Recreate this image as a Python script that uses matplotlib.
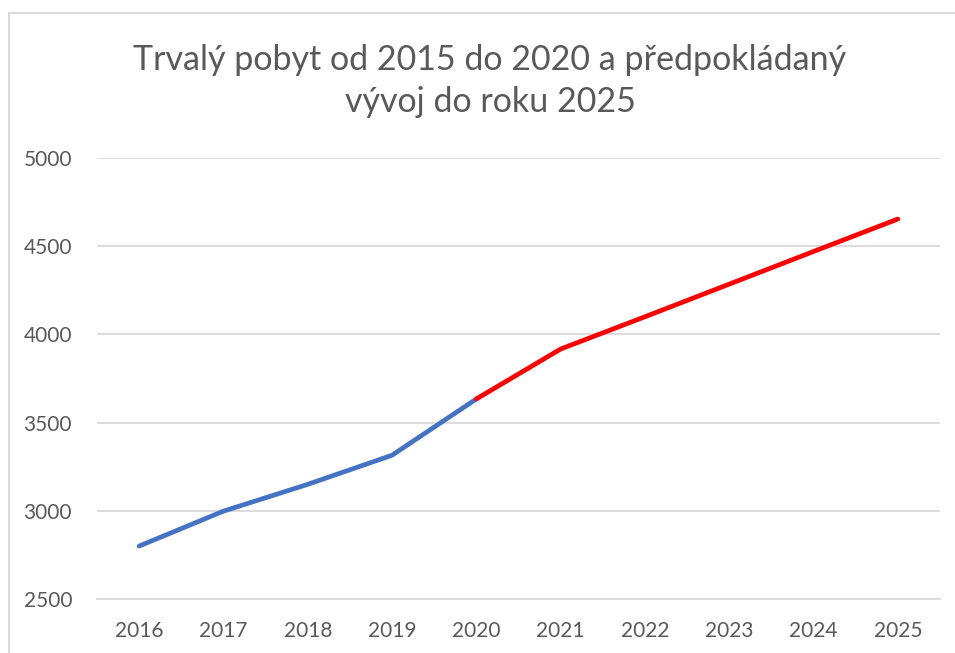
import matplotlib
matplotlib.use('Agg')
import matplotlib.pyplot as plt
from matplotlib.patches import Rectangle

# Data
years = ['2016', '2017', '2018', '2019', '2020', '2021', '2022', '2023', '2024', '2025']
actual = [2800, 2998, 3150, 3315, 3634]          # 2016-2020
forecast = [3634, 3917, 4100, 4285, 4470, 4654]  # 2020-2025
y_ticks = [2500, 3000, 3500, 4000, 4500, 5000]

title = 'Trvalý pobyt od 2015 do 2020 a předpokládaný\nvývoj do roku 2025'

plt.rcParams['font.family'] = ['Lato', 'DejaVu Sans']
text_col = '#595959'
grid_col = '#D9D9D9'

W, H = 955, 653
fig = plt.figure(figsize=(W / 100, H / 100), dpi=100)
ax = fig.add_axes([97 / W, 1 - 599 / H, (940 - 97) / W, (599 - 158) / H])

x_act = list(range(len(actual)))
x_fc = list(range(len(actual) - 1, len(actual) - 1 + len(forecast)))
ax.plot(x_act, actual, color='#4472C4', lw=3.4, solid_capstyle='round',
        solid_joinstyle='round', zorder=3)
ax.plot(x_fc, forecast, color='#FF0000', lw=3.4, solid_capstyle='round',
        solid_joinstyle='round', zorder=3)

ax.set_xlim(-0.5, len(years) - 0.5)
ax.set_ylim(y_ticks[0], y_ticks[-1])
ax.set_xticks(range(len(years)))
ax.set_xticklabels(years)
ax.set_yticks(y_ticks)
ax.yaxis.grid(True, color=grid_col, lw=1.3)
ax.set_axisbelow(True)
for s in ax.spines.values():
    s.set_visible(False)
ax.spines['bottom'].set_visible(True)
ax.spines['bottom'].set_color(grid_col)
ax.spines['bottom'].set_linewidth(1.3)
ax.tick_params(length=0, labelsize=15, colors=text_col)
ax.tick_params(axis='x', pad=16)
ax.tick_params(axis='y', pad=18)

fig.text(490 / W, 1 - 81 / H, title, ha='center', va='center',
         fontsize=24.5, color=text_col, linespacing=1.35)

# chart area frame (partly cut off at right and bottom)
fig.patches.append(Rectangle((9 / W, -0.05), 1.05, 1 - 13 / H + 0.05,
                             transform=fig.transFigure, fill=False,
                             edgecolor=grid_col, lw=1.5))

fig.savefig('out.png', dpi=100, facecolor='white')
